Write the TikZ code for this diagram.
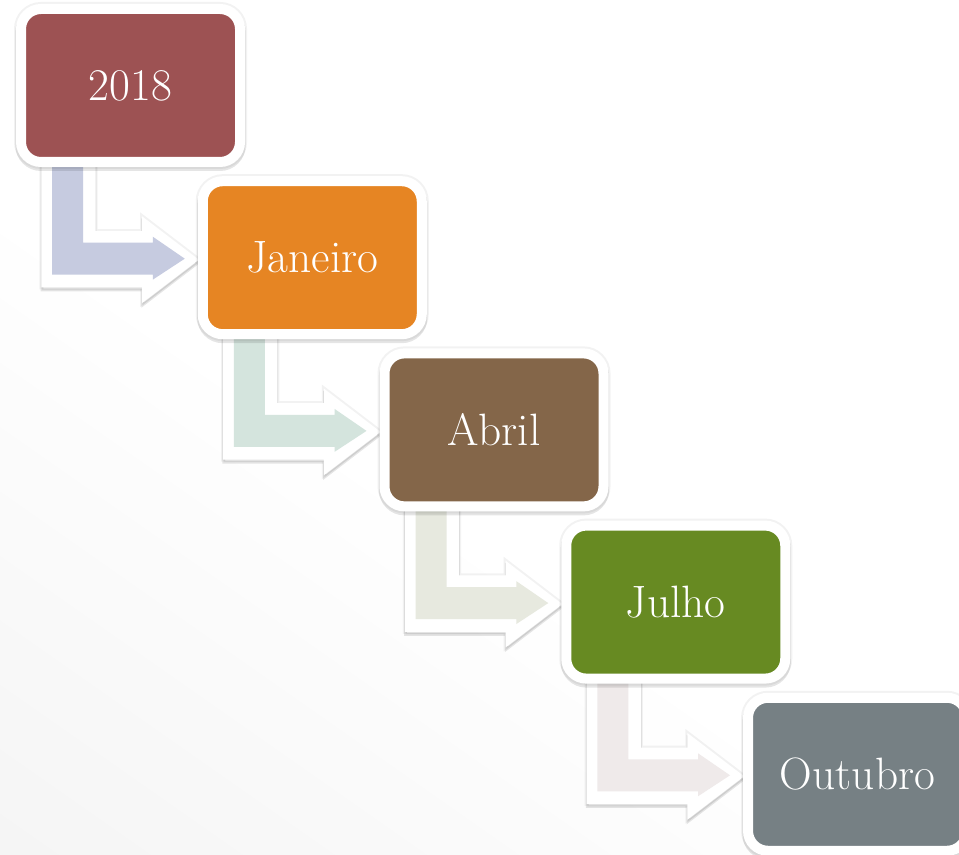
\documentclass[tikz,border=0pt]{standalone}
\usetikzlibrary{calc,shadows,backgrounds}

\definecolor{c2018}{RGB}{157,82,83}
\definecolor{cjan}{RGB}{230,133,35}
\definecolor{cabr}{RGB}{132,102,73}
\definecolor{cjul}{RGB}{103,138,34}
\definecolor{cout}{RGB}{118,128,132}
\definecolor{lav}{RGB}{198,203,224}
\definecolor{mint}{RGB}{212,228,221}
\definecolor{sand}{RGB}{231,233,223}
\definecolor{rose}{RGB}{239,234,234}

\pgfdeclareverticalshading{pagefade}{100bp}{color(0bp)=(black!6); color(30bp)=(black!2); color(45bp)=(white); color(100bp)=(white)}

\tikzset{
  soft shadow/.style={
    drop shadow={shadow xshift=0pt, shadow yshift=0pt, opacity=.05, draw=black, line width=#1+3pt},
    drop shadow={shadow xshift=0pt, shadow yshift=-2.5pt, opacity=.10, draw=black, line width=#1+1pt}},
  stage/.style={rounded corners=15pt, draw=white, line width=7.5pt,
    minimum width=164.25pt, minimum height=114.75pt, outer sep=0pt,
    text=white, font=\fontsize{34}{40}\selectfont, soft shadow=7.5pt},
  rim/.style={draw=white, line width=1pt, fill=white, soft shadow=1pt},
}

\begin{document}
\begin{tikzpicture}[x=0.75pt,y=0.75pt]
        \useasboundingbox (0,0) rectangle (959,855);

        \node[stage, fill=c2018] (y2018) at (130.5,769.5) {2018};
        \node[stage, fill=cjan] (jan) at (312.25,597.3) {Janeiro};
        \node[stage, fill=cabr] (abr) at (494,425.1) {Abril};
        \node[stage, fill=cjul] (jul) at (675.75,252.9) {Julho};
        \node[stage, fill=cout] (out) at (857.5,80.7) {Outubro};

        \begin{scope}[on background layer]
          \shade[shading=pagefade, shading angle=-35] (0,0) rectangle (959,855);
          % bent arrows between the months
          \foreach \a/\b/\col in {y2018/jan/lav, jan/abr/mint, abr/jul/sand, jul/out/rose}{
            \path (\a.center) ++(-88.5,-74.5) coordinate (ol) ++(53,0) coordinate (or)
                  (\a.center) ++(-78.5,-74.5) coordinate (il) ++(31,0) coordinate (ir);
            \filldraw[rim] (ol) -- (or) |- ($(\b.west)+(-60,26)$) -- ++(0,14)
              -- ($(\b.west)+(-5,-2)$) -- ($(\b.west)+(-60,-44)$) -- ++(0,15) -| (ol) -- cycle;
            \fill[\col] (il) -- (ir) |- ($(\b.west)+(-50,15)$) -- ++(0,6)
              -- ($(\b.west)+(-18,-1)$) -- ($(\b.west)+(-50,-22)$) -- ++(0,5) -| (il) -- cycle;
          }
        \end{scope}

      \end{tikzpicture}
\end{document}
